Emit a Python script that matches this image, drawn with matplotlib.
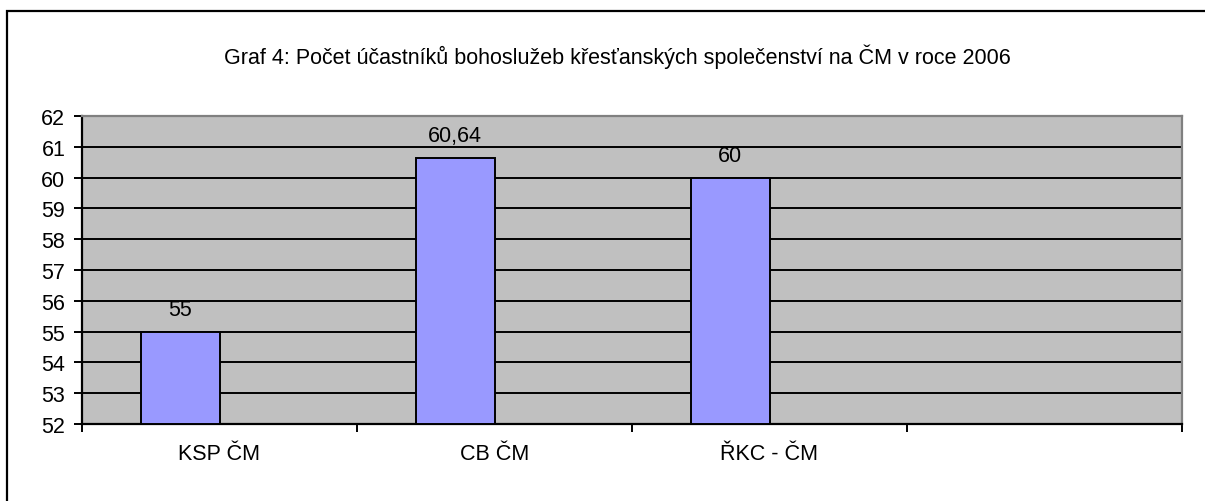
import matplotlib
matplotlib.use("Agg")
import matplotlib.pyplot as plt
from matplotlib.patches import Rectangle

plt.rcParams['font.family'] = ['Liberation Sans', 'DejaVu Sans']

title = "Graf 4: Počet účastníků bohoslužeb křesťanských společenství na ČM v roce 2006"
categories = ["KSP ČM", "CB ČM", "ŘKC - ČM", ""]
values = [55, 60.64, 60, None]
value_labels = ["55", "60,64", "60", ""]
y_ticks = list(range(52, 63))

W, H = 1205, 502
fs = 15.5
fig = plt.figure(figsize=(W / 100, H / 100), dpi=100)
fig.patch.set_facecolor("white")

# outer chart border (only left/top edges fall inside the picture)
fig.patches.append(Rectangle((7 / W, -1), 2, 2 - 12 / H, transform=fig.transFigure,
                             fill=False, edgecolor="black", lw=1.6, zorder=0))

ax = fig.add_axes([82 / W, (H - 425) / H, (1182 - 82) / W, (425 - 117) / H])
ax.set_facecolor("#C0C0C0")

# Excel style clustered bars: 2 series, gap width 150 %, second series empty
gap = 1.5
nser = 2
bw = 1 / (nser + gap)
for i, v in enumerate(values):
    if v is None:
        continue
    x0 = i + gap * bw / 2
    ax.bar(x0, v - 52, width=bw, bottom=52, align="edge",
           color="#9999FF", edgecolor="black", lw=1.4, zorder=3)
    ax.annotate(value_labels[i], (x0 + bw / 2, v), xytext=(0, 16),
                textcoords="offset points", ha="center", va="center",
                fontsize=fs, zorder=4)

ax.set_xlim(0, len(categories))
ax.set_ylim(52, 62)
ax.set_yticks(y_ticks)
ax.set_yticklabels([str(t) for t in y_ticks], fontsize=fs)
ax.yaxis.grid(True, color="black", lw=1.4, zorder=1)
ax.set_axisbelow(True)

ax.set_xticks(range(len(categories) + 1))
ax.set_xticklabels([])
ax.set_xticks([i + 0.5 for i in range(len(categories))], minor=True)
ax.set_xticklabels(categories, minor=True, fontsize=fs)
ax.tick_params(axis="x", which="minor", length=0, pad=14)
ax.tick_params(axis="x", which="major", length=6, width=1.4, direction="out")
ax.tick_params(axis="y", length=6, width=1.4, direction="out", pad=6)

for s in ["left", "bottom"]:
    ax.spines[s].set_color("black")
    ax.spines[s].set_linewidth(1.6)
for s in ["top", "right"]:
    ax.spines[s].set_color("#808080")
    ax.spines[s].set_linewidth(1.6)

fig.text(617 / W, 1 - 57 / H, title, ha="center", va="center", fontsize=fs)

fig.savefig("out.png", dpi=100)
